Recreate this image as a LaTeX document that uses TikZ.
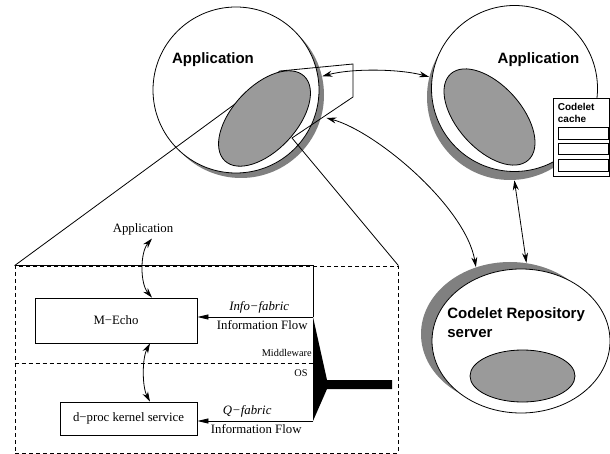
\documentclass[tikz,border=0pt]{standalone}
\usepackage{fontspec}
\setmainfont{Liberation Serif}
\setsansfont{Liberation Sans}
\usetikzlibrary{arrows.meta,shapes.geometric}

\definecolor{dropgray}{HTML}{808080}
\definecolor{blobgray}{HTML}{9A9A9A}

\begin{document}
\begin{tikzpicture}[
  x=1pt,y=1pt,
  line width=.8pt,
  font=\rmfamily\fontsize{12.8}{15}\selectfont,
  drop/.style={circle,fill=dropgray,minimum size=166pt,inner sep=0},
  disc/.style={circle,draw,fill=white,minimum size=166pt,inner sep=0},
  blob/.style={ellipse,draw,fill=blobgray,inner sep=0},
  tag/.style={font=\sffamily\bfseries\fontsize{15}{19}\selectfont,align=left},
  box/.style={draw,rectangle,inner sep=0},
  link/.style={{Stealth[length=10pt,width=6pt]}-{Stealth[length=10pt,width=6pt]}},
  flow/.style={-{Triangle[length=11pt,width=5pt]}},
  frame/.style={dash pattern=on 4pt off 3pt},
  small/.style={font=\rmfamily\fontsize{10.3}{12}\selectfont}
]
  \useasboundingbox (0,0) rectangle (610,-454);

  \node[drop] (appLsh) at (241,-95) {};
  \node[drop] (appRsh) at (510,-97) {};
  \node[drop,ellipse,minimum width=178pt,minimum height=144pt] (reposh) at (510,-334) {};
  \node[disc] (appL) at (236,-90) {};
  \node[disc] (appR) at (514.5,-88.5) {};
  \node[disc,ellipse,minimum width=178pt,minimum height=144pt] (repo) at (521,-341) {};

  \node[frame,draw,minimum width=383pt,minimum height=187pt,inner sep=0] (inset) at (206.5,-359.5) {};

  \coordinate (zTL) at (280,-71);
  \coordinate (zTR) at (353,-64);
  \coordinate (zBR) at (353,-97);
  \coordinate (zBL) at (292,-138);
  \draw (inset.north west) -- (zTL);

  \node[blob,rotate=47,minimum width=116pt,minimum height=64pt] (blobL) at (264.5,-118.5) {};
  \node[blob,rotate=-48,minimum width=116pt,minimum height=64pt] (blobR) at (489.5,-117) {};
  \node[blob,minimum width=105pt,minimum height=52pt] (blobRepo) at (522.5,-376) {};

  \node[tag] (appLtxt) at (213,-60) {Application};
  \node[tag] (appRtxt) at (538.5,-60) {Application};
  \node[tag,anchor=north west,inner sep=0] (repotxt) at (447,-307) {Codelet Repository\\server};

  \node[box,fill=white,minimum width=56pt,minimum height=78pt] (cache) at (581,-137) {};
  \node[anchor=north west,inner sep=0,align=left,
        font=\sffamily\bfseries\fontsize{10}{12}\selectfont] (cachetxt) at (557.5,-102.5) {Codelet\\cache};
  \foreach \n/\y in {1/133.5,2/149,3/165.5}
    \node[box,minimum width=50pt,minimum height=11.5pt] (slot\n) at (583,-\y) {};

  \draw (zTL) -- (zTR) -- (zBR) -- (zBL) -- (inset.north east);

  \draw[link] (appLsh.13) .. controls +(30,8) and +(-30,8) .. (appRsh.166);
  \draw[link,shorten <=5pt] (appLsh.-15) .. controls +(55,-15) and +(-10,60) .. (reposh.117);
  \draw[link] (appRsh.-87) -- (reposh.77);

  \coordinate (brtop) at (313,-317);
  \coordinate (brbot) at (313,-421);
  \coordinate (mwos) at (313,-363);
  \draw (inset.north west) -- (inset.north west -| brtop) -- (brtop);
  \draw[frame] (mwos -| inset.west) -- (mwos);
  \fill (brtop) -- (327,-380) -- (392,-380) -- (392,-389) -- (327,-389) -- (brbot) -- cycle;

  \node (appin) at (143,-229) {Application};
  \node[box,minimum width=162pt,minimum height=45pt] (mecho) at (116,-320.5) {M−Echo};
  \node[box,minimum width=137pt,minimum height=33pt] (dproc) at (128.5,-418.5) {d−proc kernel service};
  \node[small,anchor=east,inner sep=1pt] (mwtxt) at (313,-353) {Middleware};
  \node[small] (ostxt) at (301,-373) {OS};

  \draw[link] ([xshift=9pt]appin.south) .. controls +(-12,-14) and +(-12,14) .. ([xshift=36pt]mecho.north);
  \draw[link] ([xshift=34pt]mecho.south) .. controls +(-8,-15) and +(-8,15) .. ([xshift=21.5pt]dproc.north);

  \draw[flow] (brtop) -- (brtop -| mecho.east)
    node[midway,above,xshift=4pt] {\itshape Info−fabric}
    node[midway,below,xshift=7pt] {Information Flow};
  \draw[flow] (brbot) -- (brbot -| dproc.east)
    node[midway,above,xshift=-8pt] {\itshape Q−fabric}
    node[midway,below,xshift=1pt] {Information Flow};
\end{tikzpicture}
\end{document}
